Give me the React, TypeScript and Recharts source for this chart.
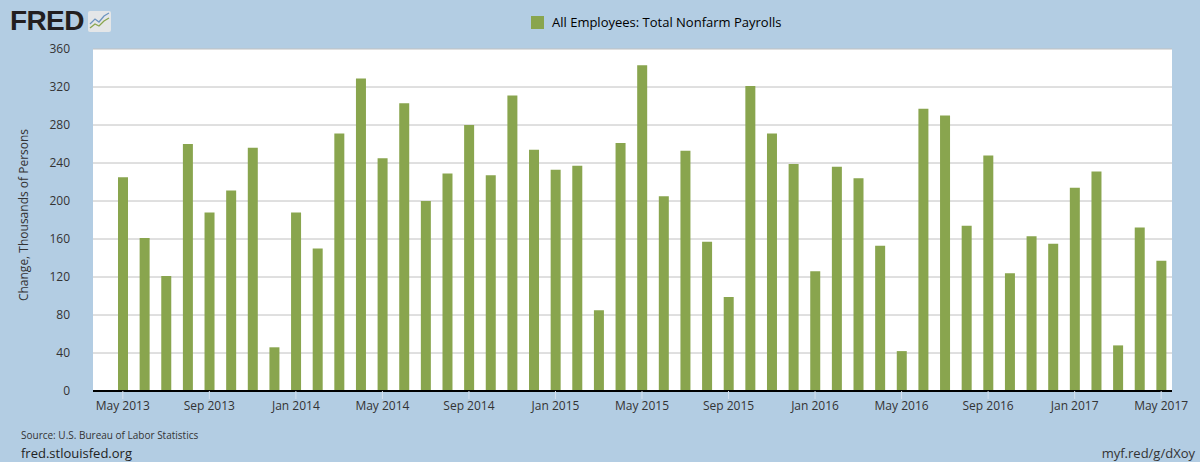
import { BarChart, Bar, XAxis, YAxis, CartesianGrid, Legend } from 'recharts'

const months = [
  'May 2013', 'Jun 2013', 'Jul 2013', 'Aug 2013', 'Sep 2013', 'Oct 2013', 'Nov 2013', 'Dec 2013',
  'Jan 2014', 'Feb 2014', 'Mar 2014', 'Apr 2014', 'May 2014', 'Jun 2014', 'Jul 2014', 'Aug 2014',
  'Sep 2014', 'Oct 2014', 'Nov 2014', 'Dec 2014', 'Jan 2015', 'Feb 2015', 'Mar 2015', 'Apr 2015',
  'May 2015', 'Jun 2015', 'Jul 2015', 'Aug 2015', 'Sep 2015', 'Oct 2015', 'Nov 2015', 'Dec 2015',
  'Jan 2016', 'Feb 2016', 'Mar 2016', 'Apr 2016', 'May 2016', 'Jun 2016', 'Jul 2016', 'Aug 2016',
  'Sep 2016', 'Oct 2016', 'Nov 2016', 'Dec 2016', 'Jan 2017', 'Feb 2017', 'Mar 2017', 'Apr 2017',
  'May 2017'
]

const payrollChange = [
  225, 161, 121, 260, 188, 211, 256, 46,
  188, 150, 271, 329, 245, 303, 200, 229,
  280, 227, 311, 254, 233, 237, 85, 261,
  343, 205, 253, 157, 99, 321, 271, 239,
  126, 236, 224, 153, 42, 297, 290, 174,
  248, 124, 163, 155, 214, 231, 48, 172,
  137
]

const yTicks = [0, 40, 80, 120, 160, 200, 240, 280, 320, 360]

const data = months.map((m, i) => ({ month: m, value: payrollChange[i] }))

const font = '"Open Sans", "DejaVu Sans", sans-serif'

const FredLogo = () => (
  <div style={{ position: 'absolute', left: 10, top: 7, display: 'flex', alignItems: 'center' }}>
    <span
      style={{
        fontFamily: '"Liberation Sans", Arial, sans-serif',
        fontWeight: 900,
        fontSize: 28,
        color: '#231f20',
        letterSpacing: -0.6,
        lineHeight: '28px'
      }}
    >
      FRED
    </span>
    <svg width={23} height={21} style={{ marginLeft: 4 }}>
      <rect x={0} y={0} width={23} height={21} rx={2} fill='#e4e6e8' />
      <polyline points='2,13 7,8 11,11 16,5 21,2' fill='none' stroke='#6d95c0' strokeWidth={1.3} />
      <polyline points='2,17 7,13 11,15 16,10 21,7' fill='none' stroke='#89a54e' strokeWidth={1.3} />
    </svg>
  </div>
)

const renderLegend = () => (
  <div style={{ display: 'flex', alignItems: 'center', fontFamily: font, fontSize: 13, color: '#000' }}>
    <span style={{ width: 13, height: 13, background: '#89a54e', display: 'inline-block', marginRight: 8 }} />
    <span>All Employees: Total Nonfarm Payrolls</span>
  </div>
)

export default function App() {
  return (
    <div
      style={{
        position: 'absolute',
        left: 0,
        top: 0,
        width: 1200,
        height: 462,
        background: '#b3cde3',
        fontFamily: font,
        overflow: 'hidden'
      }}
    >
      <FredLogo />
      <div
        style={{
          position: 'absolute',
          left: 23,
          top: 215,
          transform: 'translate(-50%, -50%) rotate(-90deg)',
          whiteSpace: 'nowrap',
          fontSize: 12,
          color: '#333'
        }}
      >
        Change, Thousands of Persons
      </div>
      <BarChart
        width={1200}
        height={462}
        data={data}
        margin={{ top: 49, right: 28, left: 0, bottom: 41 }}
      >
        <CartesianGrid vertical={false} stroke='#c0c0c0' fill='#ffffff' />
        <XAxis
          dataKey='month'
          interval={3}
          height={30}
          padding={{ left: 19, right: 0 }}
          axisLine={{ stroke: '#000', strokeWidth: 2 }}
          tickLine={{ stroke: '#d6e0ec' }}
          tickSize={8}
          tickMargin={2}
          tick={{ fill: '#333', fontSize: 12, fontFamily: font }}
        />
        <YAxis
          width={93}
          domain={[0, 360]}
          ticks={yTicks}
          axisLine={false}
          tickLine={false}
          tickSize={0}
          tickMargin={23}
          tick={{ fill: '#333', fontSize: 12, fontFamily: font }}
        />
        <Legend
          verticalAlign='middle'
          layout='horizontal'
          content={renderLegend}
          wrapperStyle={{ position: 'absolute', left: 531, top: 13, width: 'auto' }}
        />
        <Bar dataKey='value' fill='#89a54e' barSize={10} isAnimationActive={false} />
      </BarChart>
      <div style={{ position: 'absolute', left: 21, top: 428, fontSize: 10, color: '#333' }}>
        Source: U.S. Bureau of Labor Statistics
      </div>
      <div style={{ position: 'absolute', left: 21, top: 444, fontSize: 13, color: '#222' }}>
        fred.stlouisfed.org
      </div>
      <div style={{ position: 'absolute', right: 5, top: 444, fontSize: 13, color: '#333' }}>
        myf.red/g/dXoy
      </div>
    </div>
  )
}
